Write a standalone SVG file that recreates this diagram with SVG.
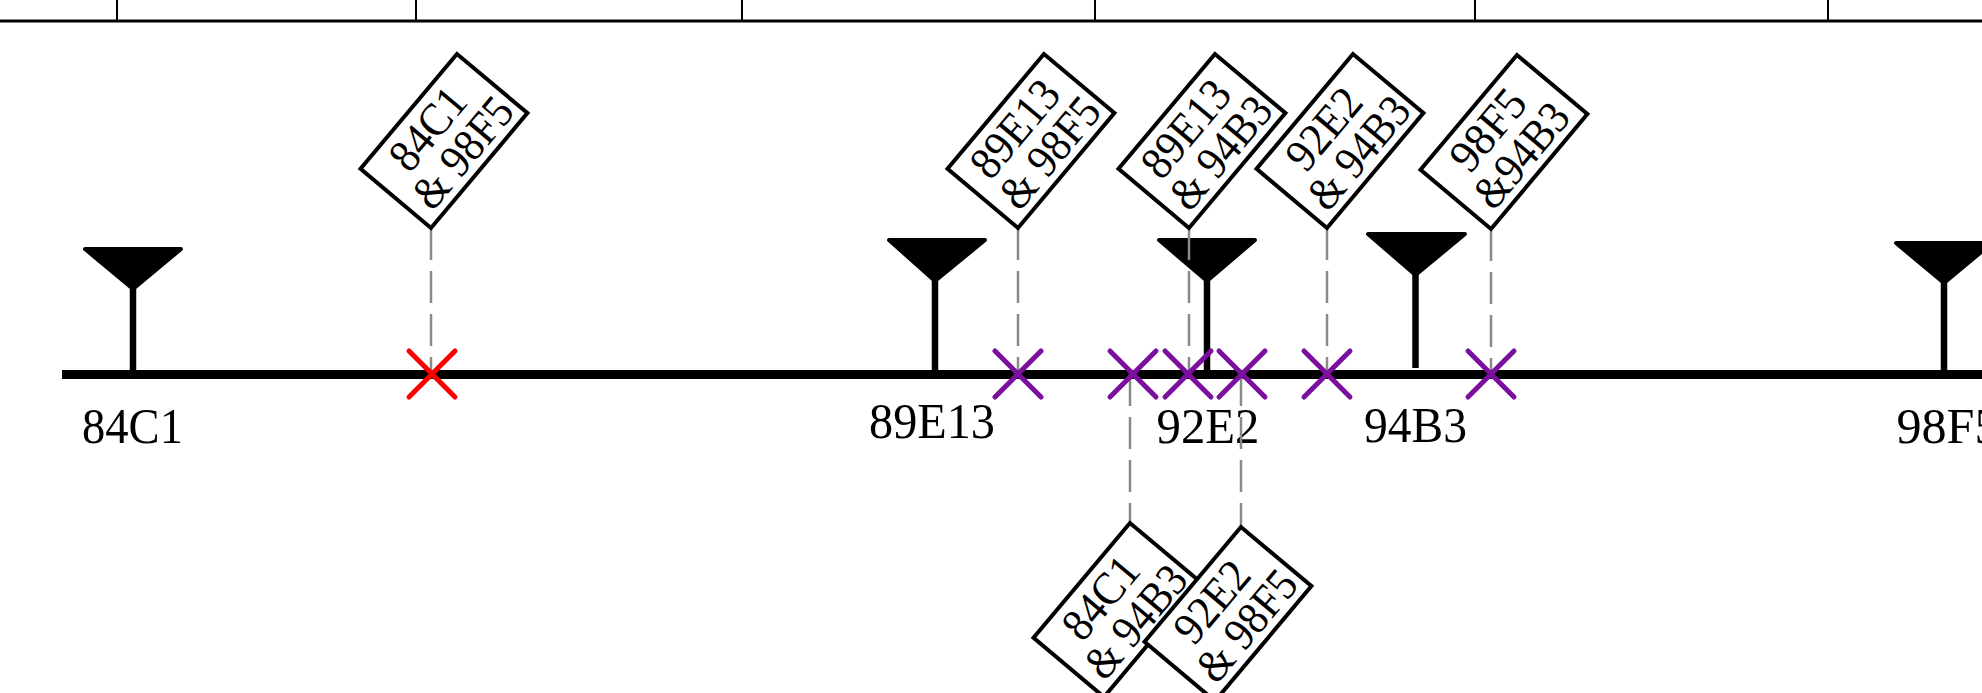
<svg xmlns="http://www.w3.org/2000/svg" width="1982" height="693" viewBox="0 0 1982 693">
  <style>
    .ruler { stroke: #000; stroke-width: 3; fill: none; }
    .tick { stroke: #000; stroke-width: 2; }
    .axis { stroke: #000; stroke-width: 9; }
    .stem { stroke: #000; stroke-width: 6.5; }
    .head { fill: #000; stroke: #000; stroke-width: 4; stroke-linejoin: round; }
    .lbl { font-family: "Liberation Serif", "Times New Roman", serif; font-size: 50px; fill: #000; text-anchor: middle; }
    .lead { stroke: #8a8a8a; stroke-width: 2.5; stroke-dasharray: 32 11; fill: none; }
    .cross { stroke-width: 5; stroke-linecap: round; fill: none; }
    .red { stroke: #ff0000; }
    .purple { stroke: #7b0f9e; }
    .tag rect { fill: #fff; stroke: #000; stroke-width: 4; }
    .tag text { font-family: "Liberation Serif", "Times New Roman", serif; font-size: 46px; fill: #000; text-anchor: middle; }
  </style>
  <defs>
    <!-- crossing mark, centred on its origin -->
    <path id="x-mark" d="M-23,-23 L23,23 M-23,23 L23,-23"/>
  </defs>

  <rect x="0" y="0" width="1982" height="693" fill="#fff"/>

  <!-- ruler along the top edge -->
  <g id="ruler">
    <line class="ruler" x1="0" y1="21" x2="1982" y2="21"/>
    <line class="tick" x1="117" y1="0" x2="117" y2="21"/>
    <line class="tick" x1="416" y1="0" x2="416" y2="21"/>
    <line class="tick" x1="742" y1="0" x2="742" y2="21"/>
    <line class="tick" x1="1095" y1="0" x2="1095" y2="21"/>
    <line class="tick" x1="1475" y1="0" x2="1475" y2="21"/>
    <line class="tick" x1="1828" y1="0" x2="1828" y2="21"/>
  </g>

  <!-- main axis -->
  <g id="axis">
    <line class="axis" x1="62" y1="374.5" x2="1982" y2="374.5"/>
  </g>

  <!-- marker pins with labels -->
  <g id="pin-84C1">
    <line class="stem" x1="133" y1="288" x2="133" y2="372"/>
    <polygon class="head" points="85,249 181,249 133,289"/>
    <text class="lbl" x="132.5" y="443" textLength="101" lengthAdjust="spacingAndGlyphs">84C1</text>
  </g>
  <g id="pin-89E13">
    <line class="stem" x1="935" y1="280" x2="935" y2="372"/>
    <polygon class="head" points="889,240 985,240 935,281"/>
    <text class="lbl" x="932" y="438" textLength="126" lengthAdjust="spacingAndGlyphs">89E13</text>
  </g>
  <g id="pin-92E2">
    <line class="stem" x1="1207" y1="280" x2="1207" y2="372"/>
    <polygon class="head" points="1159,240 1255,240 1207,281"/>
    <text class="lbl" x="1208" y="443" textLength="103" lengthAdjust="spacingAndGlyphs">92E2</text>
  </g>
  <g id="pin-94B3">
    <line class="stem" x1="1415.5" y1="274" x2="1415.5" y2="368"/>
    <polygon class="head" points="1368,234 1465,234 1415.5,275"/>
    <text class="lbl" x="1415.5" y="442" textLength="103" lengthAdjust="spacingAndGlyphs">94B3</text>
  </g>
  <g id="pin-98F5">
    <line class="stem" x1="1944" y1="282" x2="1944" y2="372"/>
    <polygon class="head" points="1896,243 1992,243 1944,283"/>
    <text class="lbl" x="1948" y="443" textLength="103" lengthAdjust="spacingAndGlyphs">98F5</text>
  </g>

  <!-- dashed leaders from tags to crossing points -->
  <g id="connectors">
    <line class="lead" x1="431" y1="228" x2="431" y2="374"/>
    <line class="lead" x1="1018" y1="228" x2="1018" y2="374"/>
    <line class="lead" x1="1189" y1="228" x2="1189" y2="374"/>
    <line class="lead" x1="1327" y1="228" x2="1327" y2="374"/>
    <line class="lead" x1="1491" y1="229" x2="1491" y2="374"/>
    <line class="lead" x1="1130" y1="374" x2="1130" y2="523"/>
    <line class="lead" x1="1241" y1="374" x2="1241" y2="527"/>
  </g>

  <!-- crossing points -->
  <g id="crossings">
    <use href="#x-mark" class="cross red" x="432" y="374"/>
    <use href="#x-mark" class="cross purple" x="1018" y="374"/>
    <use href="#x-mark" class="cross purple" x="1133" y="374"/>
    <use href="#x-mark" class="cross purple" x="1188" y="374"/>
    <use href="#x-mark" class="cross purple" x="1242" y="374"/>
    <use href="#x-mark" class="cross purple" x="1327" y="374"/>
    <use href="#x-mark" class="cross purple" x="1491" y="374"/>
  </g>

  <!-- tilted pair tags; origin at the lower corner -->
  <g id="tag-84C1-98F5" class="tag" transform="translate(431,228) rotate(-50)">
    <rect x="0" y="-92" width="150" height="92"/>
    <text x="74" y="-51" textLength="93" lengthAdjust="spacingAndGlyphs">84C1</text>
    <text x="78" y="-9" textLength="130" lengthAdjust="spacingAndGlyphs">&amp; 98F5</text>
  </g>
  <g id="tag-89E13-98F5" class="tag" transform="translate(1018,228) rotate(-50)">
    <rect x="0" y="-92" width="150" height="92"/>
    <text x="74" y="-51" textLength="112" lengthAdjust="spacingAndGlyphs">89E13</text>
    <text x="78" y="-9" textLength="130" lengthAdjust="spacingAndGlyphs">&amp; 98F5</text>
  </g>
  <g id="tag-89E13-94B3" class="tag" transform="translate(1189,228) rotate(-50)">
    <rect x="0" y="-92" width="150" height="92"/>
    <text x="74" y="-51" textLength="112" lengthAdjust="spacingAndGlyphs">89E13</text>
    <text x="78" y="-9" textLength="132" lengthAdjust="spacingAndGlyphs">&amp; 94B3</text>
  </g>
  <g id="tag-92E2-94B3" class="tag" transform="translate(1327,228) rotate(-50)">
    <rect x="0" y="-92" width="150" height="92"/>
    <text x="74" y="-51" textLength="92" lengthAdjust="spacingAndGlyphs">92E2</text>
    <text x="78" y="-9" textLength="132" lengthAdjust="spacingAndGlyphs">&amp; 94B3</text>
  </g>
  <g id="tag-98F5-94B3" class="tag" transform="translate(1491,229) rotate(-50)">
    <rect x="0" y="-92" width="150" height="92"/>
    <text x="74" y="-51" textLength="92" lengthAdjust="spacingAndGlyphs">98F5</text>
    <text x="76" y="-9" textLength="122" lengthAdjust="spacingAndGlyphs">&amp;94B3</text>
  </g>
  <g id="tag-84C1-94B3" class="tag" transform="translate(1104,697) rotate(-50)">
    <rect x="0" y="-92" width="150" height="92"/>
    <text x="74" y="-51" textLength="93" lengthAdjust="spacingAndGlyphs">84C1</text>
    <text x="78" y="-9" textLength="132" lengthAdjust="spacingAndGlyphs">&amp; 94B3</text>
  </g>
  <g id="tag-92E2-98F5" class="tag" transform="translate(1215,701) rotate(-50)">
    <rect x="0" y="-92" width="150" height="92"/>
    <text x="74" y="-51" textLength="92" lengthAdjust="spacingAndGlyphs">92E2</text>
    <text x="78" y="-9" textLength="130" lengthAdjust="spacingAndGlyphs">&amp; 98F5</text>
  </g>
</svg>
